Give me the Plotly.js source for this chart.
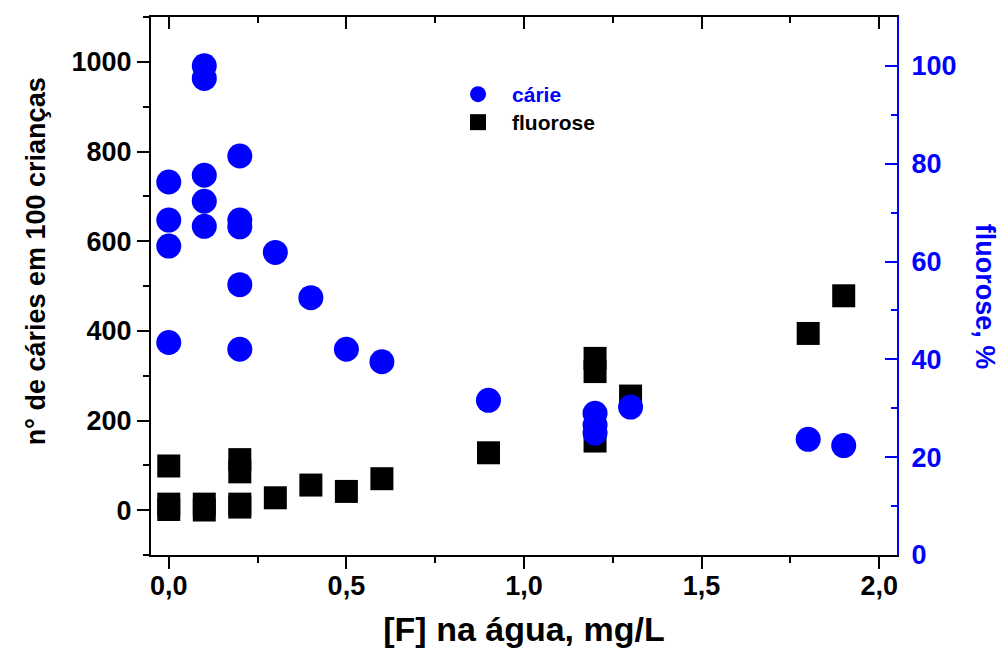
<!DOCTYPE html>
<html>
<head>
<meta charset="utf-8">
<script src="https://cdn.plot.ly/plotly-3.0.1.min.js"></script>
<style>html,body{margin:0;padding:0;background:#fff;}#chart{width:1001px;height:648px;}</style>
</head>
<body>
<div id="chart"></div>
<script>
// cárie (left axis, nº de cáries em 100 crianças)
const cariesX = [0, 0, 0, 0, 0.1, 0.1, 0.1, 0.1, 0.1, 0.2, 0.2, 0.2, 0.2, 0.2, 0.3, 0.4, 0.5, 0.6, 0.9, 1.2, 1.2, 1.2, 1.3, 1.8, 1.9];
const cariesY = [732, 647, 589, 374, 991, 963, 747, 689, 633, 790, 647, 632, 503, 359, 575, 474, 359, 331, 245, 216, 190, 172, 230, 158, 144];
// fluorose (right axis, %)
const fluoroseX = [0, 0, 0, 0.1, 0.1, 0.2, 0.2, 0.2, 0.2, 0.3, 0.4, 0.5, 0.6, 0.9, 1.2, 1.2, 1.2, 1.3, 1.8, 1.9];
const fluoroseY = [18.2, 10.4, 9.3, 10.4, 9.2, 19.5, 17.0, 10.4, 9.8, 11.7, 14.3, 13.0, 15.6, 20.9, 40.2, 37.5, 23.3, 32.5, 45.3, 53.0];
// tick labels
const xTickVals = [0, 0.5, 1, 1.5, 2];
const xTickText = ['0,0', '0,5', '1,0', '1,5', '2,0'];
const leftTickVals = [0, 200, 400, 600, 800, 1000];
const rightTickVals = [0, 20, 40, 60, 80, 100];

const BLUE = '#0000ff';
const FONT = 'Liberation Sans, Arial, sans-serif';

const traces = [
  {name: 'cárie', legend: 'legend', x: cariesX, y: cariesY, xaxis: 'x2', yaxis: 'y2', type: 'scatter', mode: 'markers',
   marker: {symbol: 'circle', size: 25, color: BLUE, line: {width: 0}}},
  {name: 'fluorose', legend: 'legend2', x: fluoroseX, y: fluoroseY, xaxis: 'x', yaxis: 'y', type: 'scatter', mode: 'markers',
   marker: {symbol: 'square', size: 23, color: '#000000', line: {width: 0}}}
];
const tickFont = {family: FONT, size: 27, weight: 'bold', color: '#000'};
const layout = {
  width: 1001, height: 648,
  margin: {l: 151, r: 104, t: 17, b: 93, pad: 0},
  paper_bgcolor: '#fff', plot_bgcolor: '#fff',
  font: {family: FONT, weight: 'bold'},
  showlegend: true,
  legend: {x: 0.3928, y: 0.894, xanchor: 'left', yanchor: 'top', bgcolor: 'rgba(0,0,0,0)', borderwidth: 0, itemwidth: 58,
    font: {family: FONT, size: 21, weight: 'bold', color: BLUE}},
  legend2: {x: 0.3928, y: 0.842, xanchor: 'left', yanchor: 'top', bgcolor: 'rgba(0,0,0,0)', borderwidth: 0, itemwidth: 58,
    font: {family: FONT, size: 21, weight: 'bold', color: '#000'}},
  xaxis: {range: [-0.05, 2.05], side: 'bottom', anchor: 'y', tickmode: 'array', tickvals: xTickVals, ticktext: xTickText,
    ticks: 'outside', ticklen: 12, tickwidth: 2, tickcolor: '#000', ticklabelstandoff: -6,
    minor: {tickmode: 'linear', tick0: 0, dtick: 0.25, ticks: 'outside', ticklen: 6, tickwidth: 2, tickcolor: '#000'},
    showline: true, linewidth: 2, linecolor: '#000', showgrid: false, zeroline: false, tickfont: tickFont,
    title: {text: '[F] na água, mg/L', font: {family: FONT, size: 34, weight: 'bold', color: '#000'}, standoff: 23}},
  xaxis2: {range: [-0.05, 2.05], overlaying: 'x', side: 'top', anchor: 'y2', tickmode: 'array', tickvals: xTickVals, showticklabels: false,
    ticks: 'inside', ticklen: 12, tickwidth: 2, tickcolor: '#000',
    minor: {tickmode: 'linear', tick0: 0, dtick: 0.25, ticks: 'inside', ticklen: 6, tickwidth: 2, tickcolor: '#000'},
    showline: true, linewidth: 2, linecolor: '#000', showgrid: false, zeroline: false},
  yaxis: {range: [0, 110], side: 'right', anchor: 'x', tickmode: 'array', tickvals: rightTickVals,
    ticks: 'inside', ticklen: 12, tickwidth: 2, tickcolor: BLUE,
    minor: {tickmode: 'linear', tick0: 0, dtick: 10, ticks: 'inside', ticklen: 6, tickwidth: 2, tickcolor: BLUE},
    showline: true, linewidth: 2, linecolor: BLUE, showgrid: false, zeroline: false, ticklabelstandoff: 7,
    tickfont: {family: FONT, size: 27, weight: 'bold', color: BLUE}},
  yaxis2: {range: [-100, 1100], overlaying: 'y', side: 'left', anchor: 'x2', tickmode: 'array', tickvals: leftTickVals,
    ticks: 'outside', ticklen: 12, tickwidth: 2, tickcolor: '#000',
    minor: {tickmode: 'linear', tick0: 0, dtick: 100, ticks: 'outside', ticklen: 6, tickwidth: 2, tickcolor: '#000'},
    showline: true, linewidth: 2, linecolor: '#000', showgrid: false, zeroline: false, tickfont: tickFont},
  annotations: [
    {text: 'n° de cáries em 100 crianças', textangle: -90, xref: 'paper', yref: 'paper', x: -0.154, y: 0.546,
     xanchor: 'center', yanchor: 'middle', showarrow: false, font: {family: FONT, size: 27, weight: 'bold', color: '#000'}},
    {text: 'fluorose, %', textangle: 90, xref: 'paper', yref: 'paper', x: 1.118, y: 0.48,
     xanchor: 'center', yanchor: 'middle', showarrow: false, font: {family: FONT, size: 27, weight: 'bold', color: BLUE}}
  ]
};
Plotly.newPlot('chart', traces, layout, {staticPlot: true, displayModeBar: false});
</script>
</body>
</html>
